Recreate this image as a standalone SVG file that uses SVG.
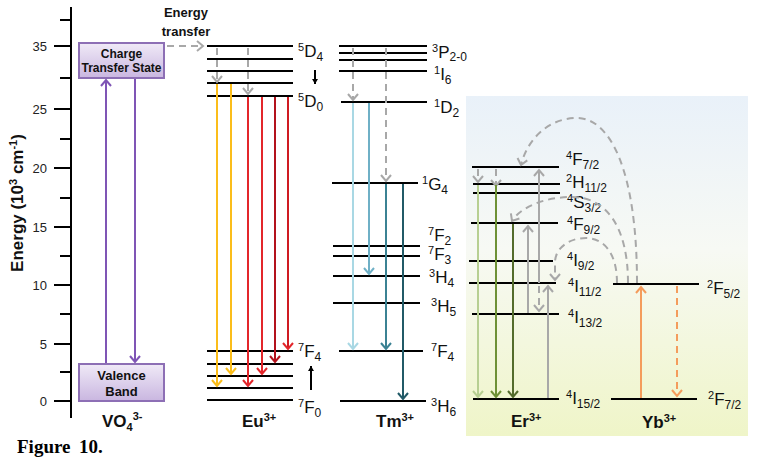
<svg xmlns="http://www.w3.org/2000/svg" width="763" height="466" viewBox="0 0 763 466">
<defs>
<linearGradient id="boxg" x1="0" y1="0" x2="0" y2="1"><stop offset="0" stop-color="#f0eaf7"/><stop offset="1" stop-color="#c9b6e0"/></linearGradient>
<linearGradient id="panelg" x1="0" y1="0" x2="0" y2="1"><stop offset="0" stop-color="#e9f1f9"/><stop offset="0.45" stop-color="#f7f9f4"/><stop offset="1" stop-color="#eff5c8"/></linearGradient>
<marker id="mPur" viewBox="-8 -6 10 12" markerWidth="10" markerHeight="12" refX="0" refY="0" orient="auto" markerUnits="userSpaceOnUse" overflow="visible"><path d="M-6,-5 L0,0 L-6,5" fill="none" stroke="#7f55b5" stroke-width="2"/></marker>
<marker id="mGry" viewBox="-8 -6 10 12" markerWidth="10" markerHeight="12" refX="0" refY="0" orient="auto" markerUnits="userSpaceOnUse" overflow="visible"><path d="M-6,-5 L0,0 L-6,5" fill="none" stroke="#a8a8a8" stroke-width="2"/></marker>
<marker id="mBlk" viewBox="-8 -6 10 12" markerWidth="10" markerHeight="12" refX="0" refY="0" orient="auto" markerUnits="userSpaceOnUse" overflow="visible"><path d="M-5,-3 L0,0 L-5,3 Z" fill="#000" stroke="none"/></marker>
<marker id="mYel" viewBox="-8 -6 10 12" markerWidth="10" markerHeight="12" refX="0" refY="0" orient="auto" markerUnits="userSpaceOnUse" overflow="visible"><path d="M-6,-5 L0,0 L-6,5" fill="none" stroke="#fbbd1a" stroke-width="2"/></marker>
<marker id="mRed" viewBox="-8 -6 10 12" markerWidth="10" markerHeight="12" refX="0" refY="0" orient="auto" markerUnits="userSpaceOnUse" overflow="visible"><path d="M-6,-5 L0,0 L-6,5" fill="none" stroke="#e3262b" stroke-width="2"/></marker>
<marker id="mDrd" viewBox="-8 -6 10 12" markerWidth="10" markerHeight="12" refX="0" refY="0" orient="auto" markerUnits="userSpaceOnUse" overflow="visible"><path d="M-6,-5 L0,0 L-6,5" fill="none" stroke="#b3121c" stroke-width="2"/></marker>
<marker id="mT1" viewBox="-8 -6 10 12" markerWidth="10" markerHeight="12" refX="0" refY="0" orient="auto" markerUnits="userSpaceOnUse" overflow="visible"><path d="M-6,-5 L0,0 L-6,5" fill="none" stroke="#a9d8e4" stroke-width="2"/></marker>
<marker id="mT2" viewBox="-8 -6 10 12" markerWidth="10" markerHeight="12" refX="0" refY="0" orient="auto" markerUnits="userSpaceOnUse" overflow="visible"><path d="M-6,-5 L0,0 L-6,5" fill="none" stroke="#6fb0c6" stroke-width="2"/></marker>
<marker id="mT3" viewBox="-8 -6 10 12" markerWidth="10" markerHeight="12" refX="0" refY="0" orient="auto" markerUnits="userSpaceOnUse" overflow="visible"><path d="M-6,-5 L0,0 L-6,5" fill="none" stroke="#3b8293" stroke-width="2"/></marker>
<marker id="mT4" viewBox="-8 -6 10 12" markerWidth="10" markerHeight="12" refX="0" refY="0" orient="auto" markerUnits="userSpaceOnUse" overflow="visible"><path d="M-6,-5 L0,0 L-6,5" fill="none" stroke="#215a67" stroke-width="2"/></marker>
<marker id="mG1" viewBox="-8 -6 10 12" markerWidth="10" markerHeight="12" refX="0" refY="0" orient="auto" markerUnits="userSpaceOnUse" overflow="visible"><path d="M-6,-5 L0,0 L-6,5" fill="none" stroke="#b7cf92" stroke-width="2"/></marker>
<marker id="mG2" viewBox="-8 -6 10 12" markerWidth="10" markerHeight="12" refX="0" refY="0" orient="auto" markerUnits="userSpaceOnUse" overflow="visible"><path d="M-6,-5 L0,0 L-6,5" fill="none" stroke="#6e9136" stroke-width="2"/></marker>
<marker id="mG3" viewBox="-8 -6 10 12" markerWidth="10" markerHeight="12" refX="0" refY="0" orient="auto" markerUnits="userSpaceOnUse" overflow="visible"><path d="M-6,-5 L0,0 L-6,5" fill="none" stroke="#546c2c" stroke-width="2"/></marker>
<marker id="mOr" viewBox="-8 -6 10 12" markerWidth="10" markerHeight="12" refX="0" refY="0" orient="auto" markerUnits="userSpaceOnUse" overflow="visible"><path d="M-6,-5 L0,0 L-6,5" fill="none" stroke="#f49c5c" stroke-width="2"/></marker>
</defs>
<style>
.lv{stroke:#000;stroke-width:2;fill:none}
.t{font-family:"Liberation Sans",Arial,sans-serif;font-size:17px;fill:#111}
.sup{font-size:11px}
.sub{font-size:12px}
.b{font-family:"Liberation Sans",Arial,sans-serif;font-weight:bold;fill:#111}
.ar{fill:none;stroke-width:2}
.dash{stroke-dasharray:7 5}
.gry{stroke:#a8a8a8}
.tick{font-family:"Liberation Sans",Arial,sans-serif;font-size:13px;fill:#222;text-anchor:end}
</style>
<rect x="0" y="0" width="763" height="466" fill="#fff"/>
<rect id="panel" x="466" y="96" width="282" height="340" fill="url(#panelg)"/>

<g id="axis">
<path class="lv" d="M71,7 V418"/>
<path class="lv" d="M60,20 H71 M54,46 H71 M60,78 H71 M54,109 H71 M60,139 H71 M54,168 H71 M60,198 H71 M54,227 H71 M60,256 H71 M54,285 H71 M60,314 H71 M54,344 H71 M60,372 H71 M54,401 H71"/>
<text class="tick" x="47" y="51">35</text>
<text class="tick" x="47" y="114">25</text>
<text class="tick" x="47" y="173">20</text>
<text class="tick" x="47" y="232">15</text>
<text class="tick" x="47" y="290">10</text>
<text class="tick" x="47" y="349">5</text>
<text class="tick" x="47" y="406">0</text>
<text class="b" font-size="17" text-anchor="middle" transform="translate(23,203) rotate(-90)">Energy (10<tspan font-size="11" dy="-6">3</tspan><tspan dy="6"> cm</tspan><tspan font-size="11" dy="-6">-1</tspan><tspan dy="6">)</tspan></text>
</g>

<g id="vo4">
<rect x="79" y="43" width="85" height="35" fill="url(#boxg)" stroke="#8d6fb5" stroke-width="2"/>
<text class="b" font-size="12" fill="#333" text-anchor="middle" x="121.5" y="58">Charge</text>
<text class="b" font-size="12" fill="#333" text-anchor="middle" x="121.5" y="72">Transfer State</text>
<rect x="79" y="364" width="85" height="37" fill="url(#boxg)" stroke="#8d6fb5" stroke-width="2"/>
<text class="b" font-size="13" fill="#333" text-anchor="middle" x="121.5" y="380">Valence</text>
<text class="b" font-size="13" fill="#333" text-anchor="middle" x="121.5" y="396">Band</text>
<text class="b" font-size="17" x="102" y="427">VO<tspan font-size="11" dy="4">4</tspan><tspan font-size="11" dy="-11">3-</tspan></text>
</g>

<text class="b" font-size="13" fill="#444" text-anchor="middle" x="186" y="17">Energy</text>
<text class="b" font-size="13" fill="#444" text-anchor="middle" x="186" y="36">transfer</text>

<g id="eu">
<path class="lv" d="M207,46 H293 M207,59 H293 M207,71 H293 M207,83 H293 M207,96 H293 M207,351 H293 M207,364 H293 M207,376 H293 M207,388 H293 M207,400 H293"/>
<text class="t" x="298" y="57"><tspan class="sup" dy="-6">5</tspan><tspan dy="6">D</tspan><tspan class="sub" dy="4">4</tspan></text>
<text class="t" x="298" y="107"><tspan class="sup" dy="-6">5</tspan><tspan dy="6">D</tspan><tspan class="sub" dy="4">0</tspan></text>
<text class="t" x="298" y="357"><tspan class="sup" dy="-6">7</tspan><tspan dy="6">F</tspan><tspan class="sub" dy="4">4</tspan></text>
<text class="t" x="298" y="413"><tspan class="sup" dy="-6">7</tspan><tspan dy="6">F</tspan><tspan class="sub" dy="4">0</tspan></text>
<text class="b" font-size="17" x="242" y="427">Eu<tspan font-size="11" dy="-6">3+</tspan></text>
</g>

<g id="tm">
<path class="lv" d="M339,46 H427 M339,53 H427 M339,60 H427 M339,71 H427 M341,102 H427 M332,183 H418 M333,246 H420 M333,256 H420 M333,276 H420 M333,303 H420 M339,351 H423 M340,401 H426"/>
<text class="t" x="432" y="58"><tspan class="sup" dy="-6">3</tspan><tspan dy="6">P</tspan><tspan class="sub" dy="3">2-0</tspan></text>
<text class="t" x="434" y="80"><tspan class="sup" dy="-6">1</tspan><tspan dy="6">I</tspan><tspan class="sub" dy="4">6</tspan></text>
<text class="t" x="434" y="113"><tspan class="sup" dy="-6">1</tspan><tspan dy="6">D</tspan><tspan class="sub" dy="4">2</tspan></text>
<text class="t" x="422" y="190"><tspan class="sup" dy="-6">1</tspan><tspan dy="6">G</tspan><tspan class="sub" dy="4">4</tspan></text>
<text class="t" x="428" y="241"><tspan class="sup" dy="-6">7</tspan><tspan dy="6">F</tspan><tspan class="sub" dy="4">2</tspan></text>
<text class="t" x="428" y="260"><tspan class="sup" dy="-6">7</tspan><tspan dy="6">F</tspan><tspan class="sub" dy="4">3</tspan></text>
<text class="t" x="429" y="283"><tspan class="sup" dy="-6">3</tspan><tspan dy="6">H</tspan><tspan class="sub" dy="4">4</tspan></text>
<text class="t" x="431" y="312"><tspan class="sup" dy="-6">3</tspan><tspan dy="6">H</tspan><tspan class="sub" dy="4">5</tspan></text>
<text class="t" x="431" y="357"><tspan class="sup" dy="-6">7</tspan><tspan dy="6">F</tspan><tspan class="sub" dy="4">4</tspan></text>
<text class="t" x="431" y="412"><tspan class="sup" dy="-6">3</tspan><tspan dy="6">H</tspan><tspan class="sub" dy="4">6</tspan></text>
<text class="b" font-size="17" x="376" y="427">Tm<tspan font-size="11" dy="-6">3+</tspan></text>
</g>

<g id="er">
<path class="lv" d="M472,167 H559 M473,184 H560 M473,193 H560 M471,223 H558 M469,261 H553 M469,283 H556 M472,314 H559 M473,399 H559"/>
<text class="t" x="566" y="165"><tspan class="sup" dy="-6">4</tspan><tspan dy="6">F</tspan><tspan class="sub" dy="4">7/2</tspan></text>
<text class="t" x="566" y="188"><tspan class="sup" dy="-6">2</tspan><tspan dy="6">H</tspan><tspan class="sub" dy="4">11/2</tspan></text>
<text class="t" x="567" y="208"><tspan class="sup" dy="-6">4</tspan><tspan dy="6">S</tspan><tspan class="sub" dy="4">3/2</tspan></text>
<text class="t" x="567" y="230"><tspan class="sup" dy="-6">4</tspan><tspan dy="6">F</tspan><tspan class="sub" dy="4">9/2</tspan></text>
<text class="t" x="567" y="266"><tspan class="sup" dy="-6">4</tspan><tspan dy="6">I</tspan><tspan class="sub" dy="4">9/2</tspan></text>
<text class="t" x="568" y="292"><tspan class="sup" dy="-6">4</tspan><tspan dy="6">I</tspan><tspan class="sub" dy="4">11/2</tspan></text>
<text class="t" x="568" y="323"><tspan class="sup" dy="-6">4</tspan><tspan dy="6">I</tspan><tspan class="sub" dy="4">13/2</tspan></text>
<text class="t" x="566" y="404"><tspan class="sup" dy="-6">4</tspan><tspan dy="6">I</tspan><tspan class="sub" dy="4">15/2</tspan></text>
<text class="b" font-size="17" x="511" y="427">Er<tspan font-size="11" dy="-6">3+</tspan></text>
</g>

<g id="yb">
<path class="lv" d="M613,284 H699 M611,399 H697"/>
<text class="t" x="707" y="294"><tspan class="sup" dy="-6">2</tspan><tspan dy="6">F</tspan><tspan class="sub" dy="4">5/2</tspan></text>
<text class="t" x="708" y="405"><tspan class="sup" dy="-6">2</tspan><tspan dy="6">F</tspan><tspan class="sub" dy="4">7/2</tspan></text>
<text class="b" font-size="17" x="642" y="428">Yb<tspan font-size="11" dy="-6">3+</tspan></text>
</g>

<g id="connectors">
<path class="ar" stroke="#7f55b5" d="M106,363 V80" marker-end="url(#mPur)"/>
<path class="ar" stroke="#7f55b5" d="M135,79 V362" marker-end="url(#mPur)"/>
<path class="ar gry dash" d="M167,46 H203" marker-end="url(#mGry)"/>
<path class="ar gry dash" d="M217,48 V82" marker-end="url(#mGry)"/>
<path class="ar gry dash" d="M248,48 V94" marker-end="url(#mGry)"/>
<path class="ar" stroke="#fbbd1a" d="M217,84 V386" marker-end="url(#mYel)"/>
<path class="ar" stroke="#fbbd1a" d="M231,84 V374" marker-end="url(#mYel)"/>
<path class="ar" stroke="#e3262b" d="M248,97 V386" marker-end="url(#mRed)"/>
<path class="ar" stroke="#e3262b" d="M262,97 V374" marker-end="url(#mRed)"/>
<path class="ar" stroke="#b3121c" d="M275,97 V362" marker-end="url(#mDrd)"/>
<path class="ar" stroke="#cf1b22" d="M288,97 V349" marker-end="url(#mRed)"/>
<path class="ar" stroke="#000" stroke-width="1.2" d="M315,70 V84" marker-end="url(#mBlk)"/>
<path class="ar" stroke="#000" stroke-width="1.2" d="M311,390 V366" marker-end="url(#mBlk)"/>
<path class="ar gry dash" d="M353,48 V100" marker-end="url(#mGry)"/>
<path class="ar gry dash" d="M386,48 V181" marker-end="url(#mGry)"/>
<path class="ar" stroke="#a9d8e4" d="M353,103 V349" marker-end="url(#mT1)"/>
<path class="ar" stroke="#6fb0c6" d="M369,103 V274" marker-end="url(#mT2)"/>
<path class="ar" stroke="#3b8293" d="M386,184 V349" marker-end="url(#mT3)"/>
<path class="ar" stroke="#215a67" d="M403,184 V399" marker-end="url(#mT4)"/>
<path class="ar gry dash" d="M478,169 V182" marker-end="url(#mGry)"/>
<path class="ar gry dash" d="M496,169 V186" marker-end="url(#mGry)"/>
<path class="ar" stroke="#b7cf92" d="M478,185 V397" marker-end="url(#mG1)"/>
<path class="ar" stroke="#6e9136" d="M496,185 V397" marker-end="url(#mG2)"/>
<path class="ar" stroke="#546c2c" d="M513,224 V397" marker-end="url(#mG3)"/>
<path class="ar gry" d="M528,313 V226" marker-end="url(#mGry)"/>
<path class="ar gry" d="M539,283 V170" marker-end="url(#mGry)"/>
<path class="ar gry dash" d="M539,286 V311" marker-end="url(#mGry)"/>
<path class="ar gry" d="M548,398 V286" marker-end="url(#mGry)"/>
<path class="ar gry dash" d="M637,283 C637,170 610,118 577,118 C548,118 527,140 521,165" marker-end="url(#mGry)"/>
<path class="ar gry dash" d="M628,283 C628,225 605,197 572,197 C543,197 520,208 512,221" marker-end="url(#mGry)"/>
<path class="ar gry dash" d="M617,283 C617,252 603,238 586,238 C567,238 555,250 555,262 L555,280" marker-end="url(#mGry)"/>
<path class="ar" stroke="#f49c5c" d="M641,398 V287" marker-end="url(#mOr)"/>
<path class="ar dash" stroke="#f49c5c" d="M677,286 V396" marker-end="url(#mOr)"/>
</g>

<text font-family="'Liberation Serif','Times New Roman',serif" font-weight="bold" font-size="19" fill="#000" x="17" y="453">Figure<tspan x="79">10.</tspan></text>
</svg>
